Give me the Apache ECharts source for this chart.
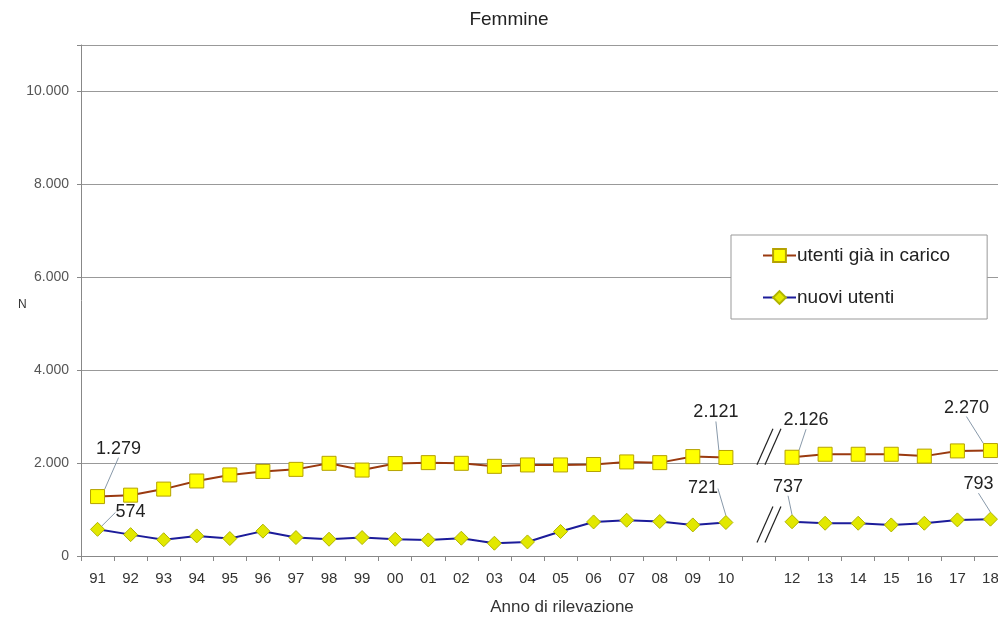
<!DOCTYPE html>
<html>
<head>
<meta charset="utf-8">
<script src="https://cdn.jsdelivr.net/npm/echarts@6/dist/echarts.min.js"></script>
<style>
html,body{margin:0;padding:0;background:#fff;}
#c{width:998px;height:621px;}
</style>
</head>
<body>
<div id="c"></div>
<script>
const categories = ['91','92','93','94','95','96','97','98','99','00','01','02','03','04','05','06','07','08','09','10','','12','13','14','15','16','17','18'];
const utentiGia = [1279,1310,1440,1615,1745,1820,1865,1995,1850,1990,2010,1995,1930,1960,1960,1970,2025,2010,2140,2121,null,2126,2190,2190,2190,2150,2262,2270];
const nuoviUtenti = [574,460,350,432,376,535,397,361,397,361,346,383,275,303,527,733,770,742,669,721,null,737,705,705,669,705,777,793];
const labelledIdx = [0,19,21,27];
const seriesNames = ['utenti già in carico','nuovi utenti'];

const fmt = v => String(v).replace(/\B(?=(\d{3})+(?!\d))/g, '.');

// label offsets (style) per series, keyed by data index
const offs = [
  {0:[21,-48],19:[-10,-45],21:[14,-37],27:[-24,-43]},
  {0:[33,-17],19:[-23,-34],21:[-4,-35],27:[-12,-35]}
];

function mk(arr){
  return arr.map((v,i)=> labelledIdx.includes(i) && v!=null ? {value:v, label:{show:true}} : v);
}

const chart = echarts.init(document.getElementById('c'), null, {renderer:'canvas'});
const font = '"Liberation Sans", Arial, sans-serif';

const labelCfg = {
  show:false, position:'inside', fontSize:18, color:'#222', fontFamily:font,
  formatter: p => fmt(p.value)
};

chart.setOption({
  animation:false,
  backgroundColor:'#fff',
  title:[
    {text:'Femmine', left:504, top:5, textAlign:'center', textStyle:{fontSize:19, fontWeight:'normal', color:'#222', fontFamily:font}},
    {text:'Anno di rilevazione', left:557, top:594, textAlign:'center', textStyle:{fontSize:17, fontWeight:'normal', color:'#333', fontFamily:font}},
    {text:'N', left:13, top:294, textStyle:{fontSize:12, fontWeight:'normal', color:'#333', fontFamily:font}}
  ],
  legend:{
    orient:'vertical', left:731, top:235,
    padding:[11,37,12,31], itemGap:23,
    backgroundColor:'#fff', borderColor:'#999', borderWidth:1,
    itemWidth:33, itemHeight:16,
    textStyle:{fontSize:19, color:'#222', fontFamily:font, padding:[0,0,0,-4]},
    data:seriesNames
  },
  grid:{left:81, top:45, width:926, bottom:65, containLabel:false, outerBoundsMode:'none'},
  xAxis:{
    type:'category', data:categories, boundaryGap:true,
    axisLine:{lineStyle:{color:'#888', width:1}},
    axisTick:{show:true, length:5, lineStyle:{color:'#888'}, interval:0},
    axisLabel:{fontSize:15, color:'#333', margin:15, interval:0, fontFamily:font},
    splitLine:{show:false}
  },
  yAxis:{
    type:'value', min:0, max:11000, interval:2000,
    axisLine:{show:true, lineStyle:{color:'#888'}},
    axisTick:{show:true, length:4, lineStyle:{color:'#888'}},
    axisLabel:{fontSize:14, color:'#555', margin:12, fontFamily:font,
      formatter: v => v > 10000 ? '' : fmt(v)},
    splitLine:{show:true, lineStyle:{color:'#999', width:1}}
  },
  series:[
    {
      name:seriesNames[0], type:'line', data:mk(utentiGia), connectNulls:false,
      symbol:'rect', symbolSize:14, showAllSymbol:true,
      lineStyle:{color:'#9a3a10', width:2},
      itemStyle:{color:'#ffff00', borderColor:'#b5a200', borderWidth:1},
      label:labelCfg,
      labelLine:{show:true, lineStyle:{color:'#8899aa', width:1}},
      labelLayout: p => { const o = offs[0][p.dataIndex] || [0,0]; return {dx:o[0], dy:o[1]}; },
      z:3
    },
    {
      name:seriesNames[1], type:'line', data:mk(nuoviUtenti), connectNulls:false,
      symbol:'diamond', symbolSize:14, showAllSymbol:true,
      lineStyle:{color:'#1c1c9a', width:2},
      itemStyle:{color:'#e2e800', borderColor:'#b0b400', borderWidth:1},
      label:labelCfg,
      labelLine:{show:true, lineStyle:{color:'#8899aa', width:1}},
      labelLayout: p => { const o = offs[1][p.dataIndex] || [0,0]; return {dx:o[0], dy:o[1]}; },
      z:4
    }
  ]
});

// axis break marks ("//") at the blank category
function drawBreaks(){
  const gapIdx = categories.indexOf('');
  const xc = chart.convertToPixel({gridIndex:0}, [gapIdx, 0])[0] + 10;
  const yTop = chart.convertToPixel({gridIndex:0}, [gapIdx, 2350])[1];
  const yBot = chart.convertToPixel({gridIndex:0}, [gapIdx, 680])[1];
  const els = [];
  [yTop, yBot].forEach(yc => {
    [-4, 4].forEach(dx => {
      els.push({type:'line', shape:{x1:xc+dx-8, y1:yc+18, x2:xc+dx+8, y2:yc-18},
        style:{stroke:'#222', lineWidth:1.2}, z:10});
    });
  });
  chart.setOption({graphic:els});
}
drawBreaks();
</script>
</body>
</html>
